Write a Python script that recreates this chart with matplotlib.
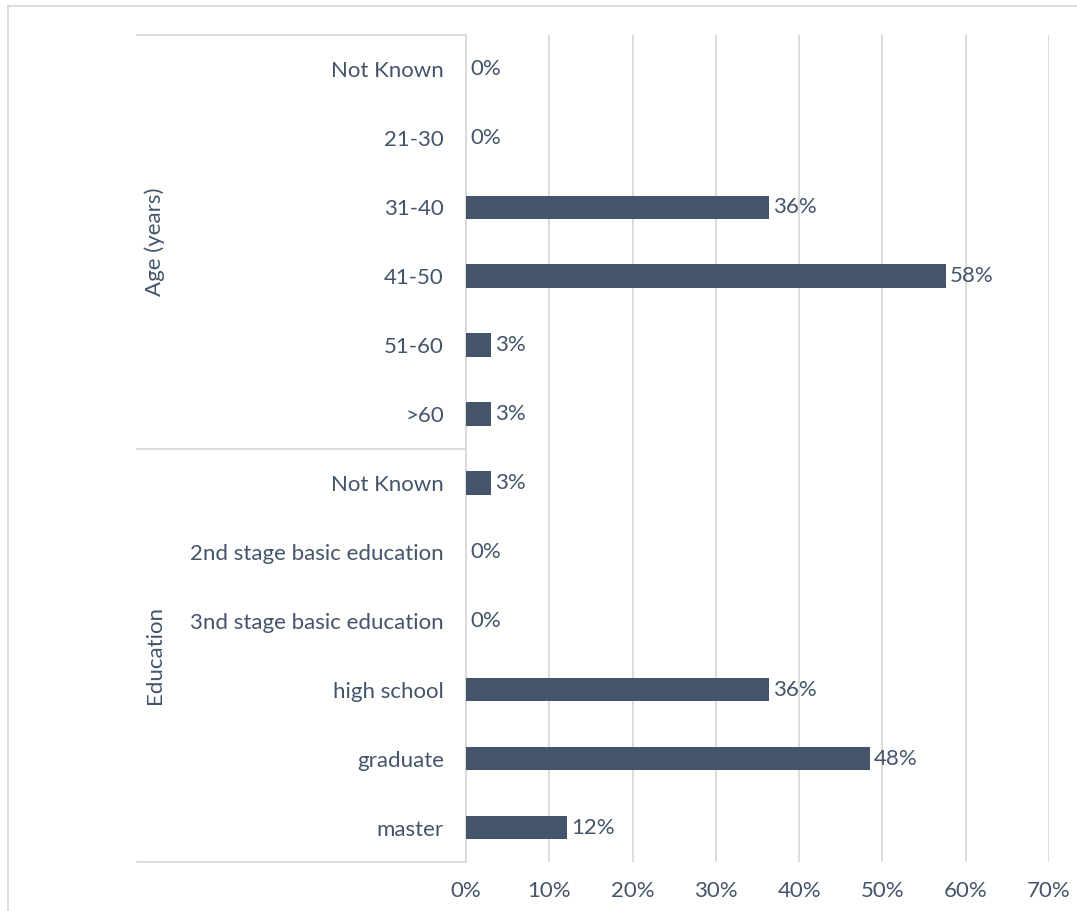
import matplotlib
matplotlib.use("Agg")
import matplotlib.pyplot as plt
from matplotlib.lines import Line2D
from matplotlib.transforms import blended_transform_factory

plt.rcParams['font.family'] = ['Lato', 'DejaVu Sans']

# Survey respondent profile (share of respondents, %)
age_labels = ["Not Known", "21-30", "31-40", "41-50", "51-60", ">60"]
age_values = [0.0, 0.0, 36.36, 57.58, 3.03, 3.03]
edu_labels = ["Not Known", "2nd stage basic education", "3nd stage basic education",
              "high school", "graduate", "master"]
edu_values = [3.03, 0.0, 0.0, 36.36, 48.48, 12.12]
group_names = ["Age (years)", "Education"]
x_ticks = [0, 10, 20, 30, 40, 50, 60, 70]

TEXT = "#44546A"
BAR = "#44546A"
GRID = "#D9D9D9"
FS = 16

labels = age_labels + edu_labels
values = age_values + edu_values
n = len(labels)
ypos = list(range(n))

W, H = 1077, 911
fig = plt.figure(figsize=(W / 100, H / 100), dpi=100)
ax = fig.add_axes([466 / W, (H - 862) / H, (1049 - 466) / W, (862 - 35) / H])

ax.barh(ypos, values, height=0.34, color=BAR, linewidth=0, zorder=3)
ax.set_ylim(n - 0.5, -0.5)
ax.set_xlim(0, 70)
ax.set_xticks(x_ticks)
ax.set_xticklabels([f"{t}%" for t in x_ticks])
ax.set_yticks(ypos)
ax.set_yticklabels(labels)
ax.tick_params(axis="both", length=0, labelsize=FS, colors=TEXT)
ax.tick_params(axis="y", pad=16)
ax.tick_params(axis="x", pad=14)
ax.grid(axis="x", color=GRID, linewidth=1.3, zorder=0)
for s in ("top", "right", "bottom"):
    ax.spines[s].set_visible(False)
ax.spines["left"].set_color(GRID)
ax.spines["left"].set_linewidth(1.3)

for y, v in zip(ypos, values):
    ax.annotate(f"{v:.0f}%", (v, y), xytext=(3, 0), textcoords="offset points",
                va="center", ha="left", fontsize=FS, color=TEXT)

# group brackets in the category area
left_frac = -(466 - 137) / (1049 - 466)
tr = blended_transform_factory(ax.transAxes, ax.transData)
n_age = len(age_labels)
for yb in (-0.5, n_age - 0.5, n - 0.5):
    ax.plot([left_frac, 0], [yb, yb], transform=tr, color=GRID, linewidth=1.3,
            clip_on=False, zorder=1)
label_x = -(466 - 155) / (1049 - 466)
ax.text(label_x, (n_age - 1) / 2, group_names[0], transform=tr, rotation=90,
        ha="center", va="center", fontsize=FS, color=TEXT)
ax.text(label_x, n_age + (len(edu_labels) - 1) / 2, group_names[1], transform=tr,
        rotation=90, ha="center", va="center", fontsize=FS, color=TEXT)

# chart-area border
fig.add_artist(Line2D([8 / W, 8 / W], [0, 1 - 6 / H], color=GRID, linewidth=1.3))
fig.add_artist(Line2D([8 / W, 1], [1 - 6 / H, 1 - 6 / H], color=GRID, linewidth=1.3))

fig.savefig("out.png", dpi=100, facecolor="white")
